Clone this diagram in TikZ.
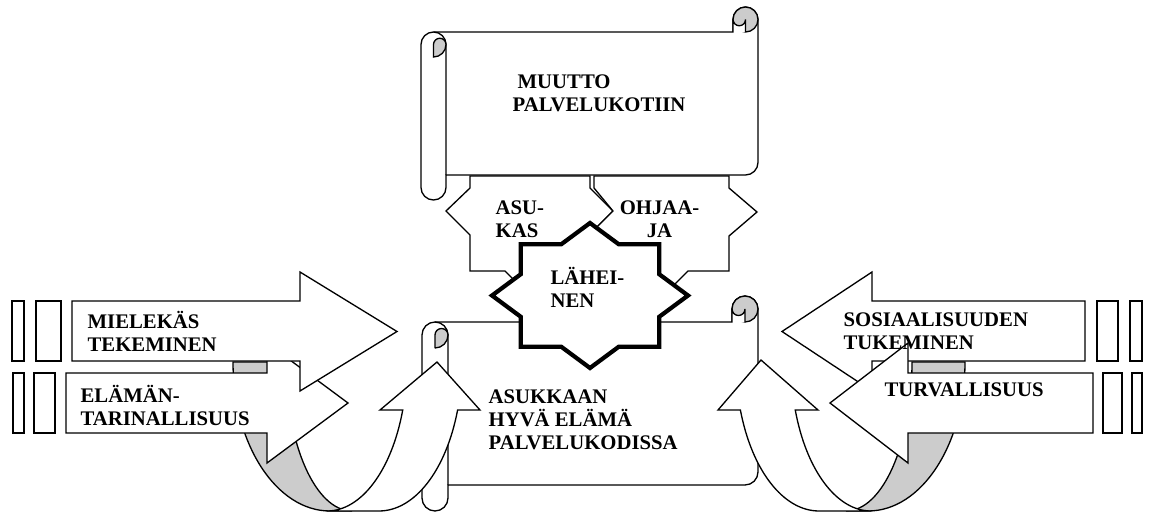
\documentclass[tikz,border=0pt]{standalone}
\usepackage{fontspec}
\setmainfont{Liberation Serif}
\definecolor{curlgray}{gray}{0.8}

\newcommand{\scrollbox}[5]{%
	\pgfmathsetmacro{\scrr}{#5/2}
	\pgfmathsetmacro{\scrq}{#5/4}
	\pgfmathsetmacro{\scyt}{#2-#5}
	\draw[paper] (#1,{\scyt-\scrr}) arc[start angle=180, end angle=90, radius=\scrr]
		-- ({#3-#5},\scyt) -- ({#3-#5},{#2-\scrr}) arc[start angle=180, end angle=0, radius=\scrr]
		-- (#3,{#4+\scrr}) arc[start angle=0, end angle=-90, radius=\scrr]
		-- ({#1+#5},#4) -- ({#1+#5},{#4-\scrr}) arc[start angle=0, end angle=-180, radius=\scrr] -- cycle;
	\draw ({#1+\scrr},\scyt) arc[start angle=90, end angle=0, radius=\scrr] -- ({#1+#5},#4);
	\draw[curl] ({#1+\scrr},{\scyt-#5}) -- ({#1+\scrr},{\scyt-\scrr})
		arc[start angle=180, end angle=0, radius=\scrq]
		arc[start angle=0, end angle=-90, radius=\scrr] -- cycle;
	\draw[curl] ({#3-\scrr},{#2-\scrr}) circle[radius=\scrr];
	\draw[paper] ({#3-#5},\scyt) -- ({#3-#5},{#2-\scrr})
		arc[start angle=180, end angle=360, radius=\scrq] -- ({#3-\scrr},\scyt);
}

\begin{document}
\begin{tikzpicture}[x=0.02cm, y=0.02cm, line width=0.75pt,
		font=\bfseries\fontsize{11.8}{13.1}\selectfont,
		paper/.style={fill=white},
		curl/.style={fill=curlgray},
		starline/.style={line width=2.4pt, fill=white},
		lbl/.style={anchor=west, align=left, inner sep=0pt}]
	\useasboundingbox (0,0) rectangle (1150,512);

	{ [paper]
		\draw[paper] (470,336) -- (470,324) -- (446,301) -- (470,277) -- (470,241) -- (505,241)
			-- (540,206) -- (590,278) -- (613,301) -- (590,324) -- (590,336) -- cycle;
		\draw[paper] (594,336) -- (594,324) -- (613,301) -- (590,278) -- (650,203) -- (688,241)
			-- (729,241) -- (729,276) -- (757,300) -- (729,324) -- (729,336) -- cycle;
	}

	\scrollbox{421}{505}{758}{337}{25}
	\scrollbox{422}{216}{758}{27}{26}

	\draw[starline, shift={(590,216.5)}] (0:98 and 72.5)
		\foreach \a in {0,45,...,270} { -- (\a+22.5:75 and 55.5) -- (\a+45:98 and 72.5) }
		-- (337.5:75 and 55.5) -- cycle;

	% curved arrows
	\draw[curl] (233,150) arc[start angle=180, end angle=270, x radius=97, y radius=149]
		-- (352,1) arc[start angle=270, end angle=180, x radius=66, y radius=149] -- cycle;
	\draw[paper] (380,102) -- (437,150) -- (480,102) -- (457.6,102)
		arc[start angle=-18.8, end angle=-90, x radius=83, y radius=149]
		-- (327,1) arc[start angle=-90, end angle=-18.8, x radius=80, y radius=149] -- cycle;

	\draw[curl] (965,150) arc[start angle=0, end angle=-90, x radius=97, y radius=149]
		-- (846,1) arc[start angle=270, end angle=360, x radius=66, y radius=149] -- cycle;
	\draw[paper] (818,102) -- (761,152) -- (718,102) -- (740.4,102)
		arc[start angle=198.8, end angle=270, x radius=83, y radius=149]
		-- (871,1) arc[start angle=270, end angle=198.8, x radius=80, y radius=149] -- cycle;

	% striped arrows
	\draw[paper] (13,139) rectangle (24,79);
	\draw[paper] (34,139) rectangle (55,79);
	\draw[paper] (66,139) -- (267,139) -- (267,169) -- (348,109) -- (267,49) -- (267,79) -- (66,79) -- cycle;
	\draw[paper] (12,211) rectangle (24,151);
	\draw[paper] (36,211) rectangle (61,151);
	\draw[paper] (72,211) -- (300,211) -- (300,240) -- (397,180.5) -- (300,121) -- (300,151) -- (72,151) -- cycle;

	\draw[paper] (1097,211) rectangle (1118,151);
	\draw[paper] (1130,211) rectangle (1142,151);
	\draw[paper] (1085,211) -- (872,211) -- (872,240) -- (782,180.5) -- (872,121) -- (872,151) -- (1085,151) -- cycle;
	\draw[paper] (1103,139) rectangle (1122,79);
	\draw[paper] (1132,139) rectangle (1142,79);
	\draw[paper] (1093,139) -- (908,139) -- (908,169) -- (830,109) -- (908,49) -- (908,79) -- (1093,79) -- cycle;

	\node[lbl] (muutto) at (512,418.5) {\hspace{1mm}MUUTTO\\PALVELUKOTIIN};
	\node[lbl] (asukas) at (495,292.5) {ASU-\\KAS};
	\node[align=center, inner sep=0pt] (ohjaaja) at (659.5,292.5) {OHJAA-\\JA};
	\node[lbl] (laheinen) at (550,224.5) {LÄHEI-\\NEN};
	\node[lbl] (hyva) at (488,92) {ASUKKAAN\\HYVÄ ELÄMÄ\\PALVELUKODISSA};
	\node[lbl] (mielekas) at (87,181) {MIELEKÄS\\TEKEMINEN};
	\node[lbl] (elaman) at (80,106.5) {ELÄMÄN-\\TARINALLISUUS};
	\node[lbl] (sosiaal) at (843,181) {SOSIAALISUUDEN\\TUKEMINEN};
	\node[lbl] (turva) at (884,122) {TURVALLISUUS};
\end{tikzpicture}
\end{document}
